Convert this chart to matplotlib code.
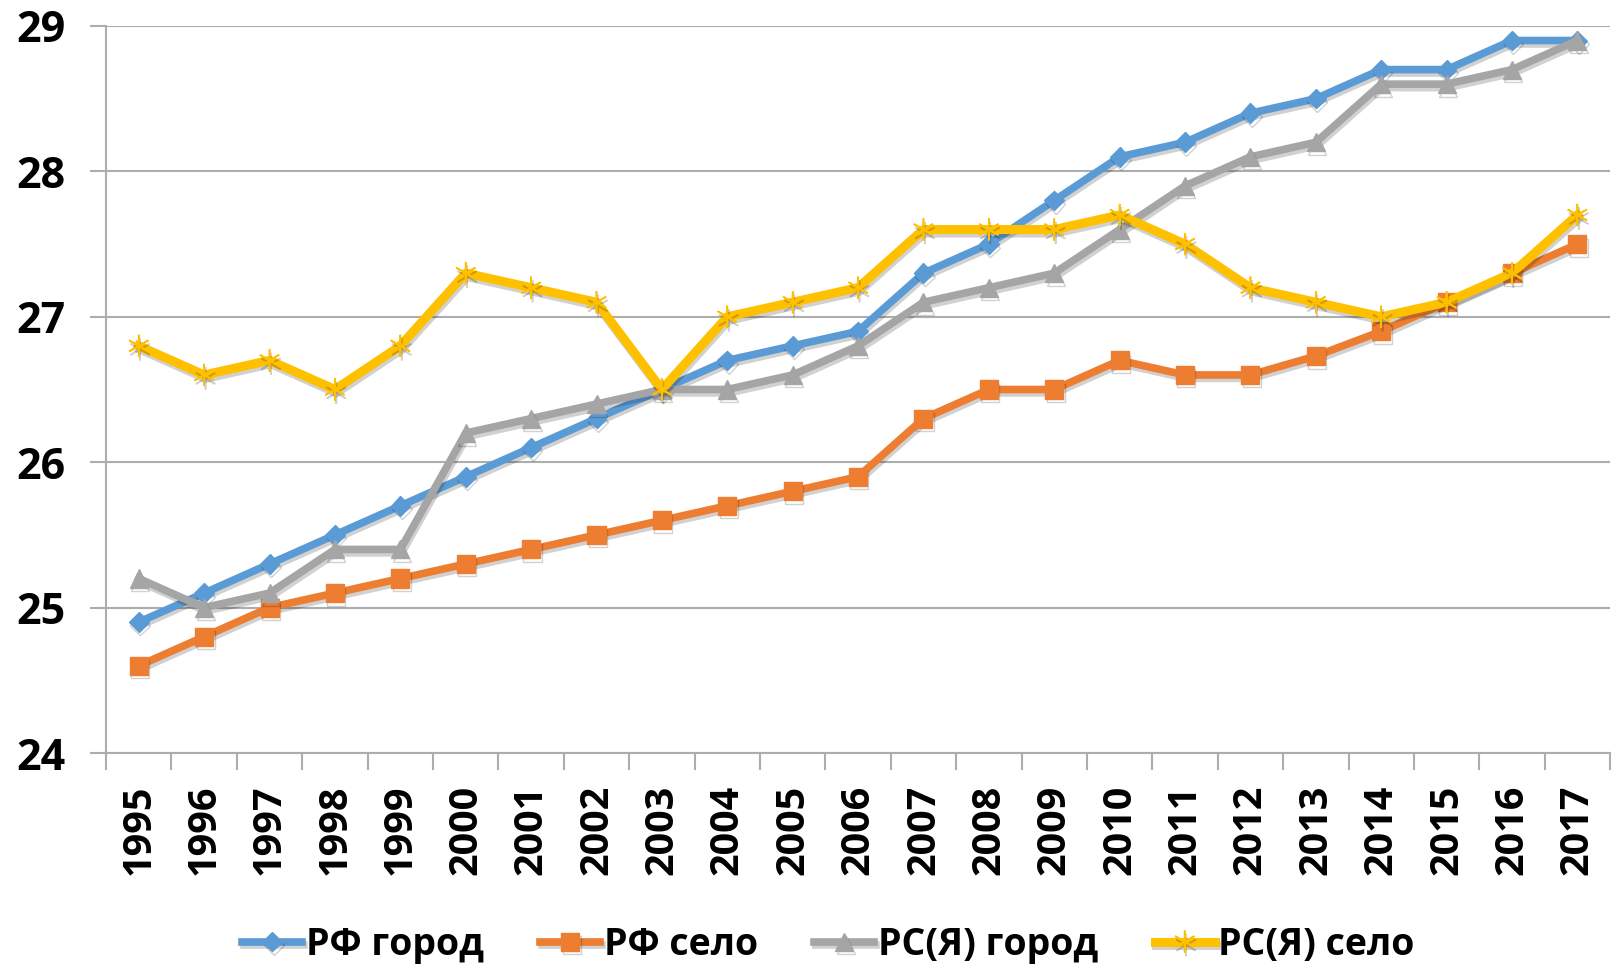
import numpy as np
import matplotlib
matplotlib.use("Agg")
import matplotlib.pyplot as plt
import matplotlib.patheffects as pe
from matplotlib.ticker import FixedLocator, NullFormatter

# data
years = list(range(1995, 2018))
rf_city = [24.9, 25.1, 25.3, 25.5, 25.7, 25.9, 26.1, 26.3, 26.5, 26.7, 26.8, 26.9,
           27.3, 27.5, 27.8, 28.1, 28.2, 28.4, 28.5, 28.7, 28.7, 28.9, 28.9]
rf_village = [24.6, 24.8, 25.0, 25.1, 25.2, 25.3, 25.4, 25.5, 25.6, 25.7, 25.8, 25.9,
              26.3, 26.5, 26.5, 26.7, 26.6, 26.6, 26.73, 26.9, 27.1, 27.3, 27.5]
rs_city = [25.2, 25.0, 25.1, 25.4, 25.4, 26.2, 26.3, 26.4, 26.5, 26.5, 26.6, 26.8,
           27.1, 27.2, 27.3, 27.6, 27.9, 28.1, 28.2, 28.6, 28.6, 28.7, 28.9]
rs_village = [26.8, 26.6, 26.7, 26.5, 26.8, 27.3, 27.2, 27.1, 26.5, 27.0, 27.1, 27.2,
              27.6, 27.6, 27.6, 27.7, 27.5, 27.2, 27.1, 27.0, 27.1, 27.3, 27.7]
labels = ["РФ город", "РФ село", "РС(Я) город", "РС(Я) село"]

plt.rcParams['font.family'] = ['Open Sans', 'DejaVu Sans']
plt.rcParams['font.weight'] = 'bold'

fig = plt.figure(figsize=(16.12, 9.69), dpi=100)
ax = fig.add_axes([0.0658, 0.2229, 0.9330, 0.7503])

x = np.arange(len(years))
shadow = [pe.SimpleLineShadow(offset=(1, -2.5), shadow_color='black', alpha=0.18), pe.Normal()]

ax.plot(x, rf_city, color='#5B9BD5', lw=5.5, marker='D', ms=10, label=labels[0], path_effects=shadow, zorder=3)
ax.plot(x, rf_village, color='#ED7D31', lw=5.5, marker='s', ms=13, label=labels[1], path_effects=shadow, zorder=3)
ax.plot(x, rs_city, color='#A5A5A5', lw=5.5, marker='^', ms=13, label=labels[2], path_effects=shadow, zorder=3)
ax.plot(x, rs_village, color='#FFC000', lw=6.5, marker=(6, 2, 0), ms=16, mew=1.2,
        label=labels[3], path_effects=shadow, zorder=4)

ax.set_xlim(-0.5, len(years) - 0.5)
ax.set_ylim(24, 29)
ax.set_yticks([24, 25, 26, 27, 28, 29])
ax.yaxis.grid(True, color='#ADADAD', lw=1.5)
ax.set_axisbelow(True)

ax.set_xticks(x)
ax.set_xticklabels([str(y) for y in years], rotation=90, fontsize=28.5, fontweight='bold')
ax.xaxis.set_minor_locator(FixedLocator(np.arange(-0.5, len(years), 1.0)))
ax.xaxis.set_minor_formatter(NullFormatter())
ax.tick_params(axis='x', which='major', length=0, pad=23)
ax.tick_params(axis='x', which='minor', length=12, width=1.5, color='#ADADAD')
ax.tick_params(axis='y', length=11.5, width=1.5, color='#ADADAD', pad=18, labelsize=31)
for lab in ax.get_yticklabels():
    lab.set_fontweight('bold')

for s in ['top', 'right']:
    ax.spines[s].set_visible(False)
ax.spines['left'].set_color('#ADADAD')
ax.spines['left'].set_linewidth(1.5)
ax.spines['bottom'].set_color('#ADADAD')
ax.spines['bottom'].set_linewidth(1.5)

leg = fig.legend(loc='center', bbox_to_anchor=(0.514, 0.025), ncol=4, frameon=False,
                 handlelength=1.6, columnspacing=1.5, handletextpad=0.1,
                 prop={'weight': 'bold', 'size': 27})

fig.savefig('out.png', dpi=100)
